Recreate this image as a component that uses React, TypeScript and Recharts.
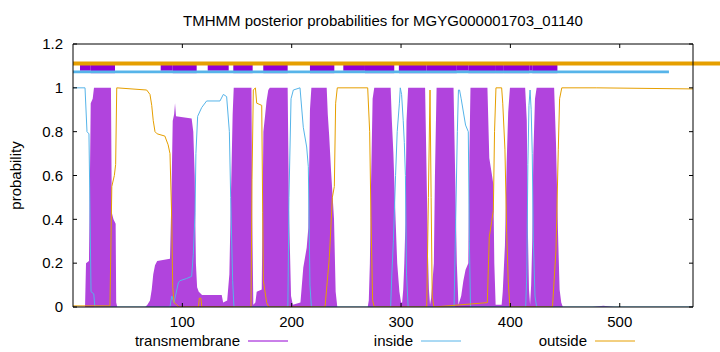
import React from 'react';
import { ComposedChart, Area, Line, XAxis, YAxis, ReferenceLine, ReferenceArea } from 'recharts';

// ---- data (residue position, posterior probability) ----
const tmPos = [0, 11, 11.9, 14.6, 15.5, 16.2, 18, 19.2, 34.7, 35.5, 37, 39, 39.5, 40.5, 66, 68, 70.4, 72, 73.4, 75, 77, 88.7, 90, 91.2, 92.5, 93.3, 94.2, 108.5, 110, 111.3, 112.4, 113.5, 115, 118, 136, 137.3, 141, 143, 144.2, 146, 147, 163.2, 163.9, 164.9, 166.8, 168, 172.6, 173.5, 174.1, 175.6, 177, 178.6, 180, 196.3, 197.5, 199.4, 201, 208, 210.6, 213.7, 215.2, 216.7, 218, 232, 233, 234.3, 236, 237.5, 238.7, 240.2, 241.7, 269.5, 270.5, 271.5, 272.5, 274, 275.5, 290.5, 291.6, 293, 295, 296.5, 298.5, 300, 301, 302, 303, 304, 305, 306.5, 322, 323.4, 324.5, 325.5, 326.5, 327.5, 328.5, 330, 331, 332.5, 348, 349.5, 351, 352.5, 355, 357, 359, 361.5, 362.5, 363.5, 379, 380.7, 382.9, 384.4, 385.3, 386.5, 392, 393, 395, 396.6, 398, 399.6, 413.5, 415, 416, 417, 418, 419, 420, 421, 422.5, 424, 440, 441.7, 443.5, 445, 446.5, 448, 475, 485, 495, 567];
const tmProb = [0, 0, 0.2, 0.21, 0.6, 0.93, 0.95, 1, 1, 0.43, 0.4, 0.38, 0.02, 0, 0, 0.01, 0.03, 0.08, 0.15, 0.19, 0.21, 0.22, 0.5, 0.85, 0.88, 0.93, 0.87, 0.86, 0.8, 0.6, 0.2, 0.09, 0.07, 0.055, 0.055, 0.02, 0.03, 0.15, 0.45, 0.88, 1, 1, 0.42, 0.01, 0.02, 0.07, 0.08, 0.5, 0.8, 0.87, 0.94, 0.99, 1, 1, 0.45, 0.05, 0.01, 0.02, 0.18, 0.27, 0.36, 0.9, 1, 1, 0.88, 0.78, 0.62, 0.5, 0.4, 0.07, 0, 0, 0.03, 0.2, 0.55, 0.95, 1, 1, 0.85, 0.7, 0.4, 0.2, 0.07, 0.02, 0.02, 0.08, 0.2, 0.38, 0.85, 1, 1, 0.6, 0.26, 0.08, 0.01, 0.04, 0.1, 0.2, 0.6, 1, 1, 0.6, 0.2, 0.01, 0.05, 0.12, 0.17, 0.2, 0.7, 1, 1, 0.68, 0.61, 0.56, 0.2, 0.01, 0.01, 0.07, 0.28, 0.66, 0.89, 1, 1, 0.85, 0.35, 0.08, 0.01, 0.1, 0.3, 0.7, 0.95, 1, 1, 0.75, 0.35, 0.08, 0.02, 0, 0, 0.006, 0, 0];

const inPos = [0, 11, 12.8, 14.6, 16.5, 19, 20, 88.7, 90.3, 92.4, 96.3, 97.8, 103.9, 108.5, 110, 111.6, 112.4, 114, 117.7, 122.2, 134.4, 137.5, 140.5, 143, 144.2, 146, 147.2, 196.5, 197.5, 199.4, 201.5, 207.6, 210.6, 213.7, 215.2, 216.7, 218, 290.5, 291.6, 293, 295, 296.5, 298.5, 299.3, 300.5, 302, 303, 304, 305, 306.5, 348.5, 350, 351.5, 352.5, 353.5, 355, 359, 361.5, 362.5, 363.5, 414, 415, 416, 417, 418, 419, 420, 421, 422.5, 424, 567];
const inProb = [1, 1, 0.8, 0.79, 0.07, 0.06, 0, 0, 0.05, 0.02, 0.11, 0.12, 0.13, 0.14, 0.24, 0.43, 0.7, 0.87, 0.91, 0.94, 0.94, 0.97, 0.96, 0.8, 0.5, 0.12, 0, 0, 0.5, 0.95, 0.99, 1, 0.82, 0.73, 0.64, 0.1, 0, 0, 0.15, 0.3, 0.6, 0.8, 0.93, 1, 0.97, 0.85, 0.75, 0.6, 0.15, 0, 0, 0.4, 0.8, 0.99, 0.99, 0.95, 0.83, 0.8, 0.3, 0, 0, 0.15, 0.65, 0.92, 0.99, 0.9, 0.7, 0.3, 0.05, 0, 0];

const outPos = [0, 33.8, 35.5, 37.8, 39, 40, 67.4, 70.4, 72, 73.4, 75, 77, 84, 87, 88.7, 90.3, 91.2, 92.4, 94.8, 97, 114.8, 115.5, 117, 117.8, 162.8, 163.7, 164.9, 166.8, 168, 172.6, 173.5, 174.1, 177.1, 179, 230.5, 234.5, 237.2, 239, 240.2, 241.7, 269.5, 271.3, 272.5, 274, 275.5, 323.5, 325, 326.5, 327.5, 328.5, 330, 378.9, 380.7, 382.9, 384.4, 385.5, 386.8, 392, 393, 395, 396.6, 398.1, 399.6, 438.5, 441.7, 443.8, 445, 447, 479, 567];
const outProb = [0.005, 0.005, 0.55, 0.6, 0.65, 1, 0.99, 0.97, 0.92, 0.85, 0.8, 0.79, 0.78, 0.74, 0.7, 0.4, 0.09, 0.02, 0.01, 0, 0, 0.04, 0.04, 0, 0, 0.58, 0.99, 1, 0.93, 0.92, 0.43, 0.12, 0.02, 0, 0, 0.23, 0.5, 0.55, 0.93, 1, 1, 0.8, 0.41, 0.03, 0, 0, 0.5, 0.99, 0.5, 0.05, 0, 0.02, 0.32, 0.39, 0.44, 0.8, 1, 1, 0.93, 0.72, 0.34, 0.11, 0, 0, 0.26, 0.72, 0.95, 1, 1, 0.995];

// header bar: predicted topology
const outsideBar = [0, 592];
const insideBar = [0, 545];
const tmBoxStart = [6.4, 16.2, 80.2, 91.2, 123.2, 146.6, 174, 216.7, 247.2, 267, 298, 323.4, 326.5, 351, 361.5, 386, 394, 417.3, 420];
const tmBoxEnd = [16.2, 38.4, 91.2, 113.1, 142.4, 164.3, 196.3, 239, 267, 293.8, 323.4, 326.5, 351, 361.5, 386, 394, 417.3, 420, 443];
const tmBoxKind = ['thin', 'full', 'thin', 'full', 'thin', 'full', 'full', 'full', 'thin', 'full', 'full', 'lower', 'full', 'upper', 'full', 'lower', 'full', 'upper', 'full'];

const xTicks = [100, 200, 300, 400, 500];
const yTicks = [0, 0.2, 0.4, 0.6, 0.8, 1, 1.2];
const yTickLabels = ['0', '0.2', '0.4', '0.6', '0.8', '1', '1.2'];
const seriesNames = ['transmembrane', 'inside', 'outside'];

const title = 'TMHMM posterior probabilities for MGYG000001703_01140';

// ---- styles ----
const PURPLE = '#9400D3';
const PURPLE_FILL = '#b144dd';
const BLUE = '#56B4E9';
const ORANGE = '#E69F00';
const FONT = '"Liberation Sans", Arial, sans-serif';
const FS = 15;
const boxY: Record<string, [number, number]> = {
  full: [1.067, 1.113],
  thin: [1.078, 1.105],
  lower: [1.067, 1.105],
  upper: [1.078, 1.113],
};

const zip = (xs: number[], ys: number[]) => xs.map((x, i) => ({ x, p: ys[i] }));
const tmData = zip(tmPos, tmProb);
const inData = zip(inPos, inProb);
const outData = zip(outPos, outProb);

const BottomTick = (props: any) => {
  const { x, y, payload } = props;
  return (
    <g>
      <line x1={x} x2={x} y1={y} y2={y - 4} stroke="#000" />
      <text x={x} y={y + 20} textAnchor="middle" fontFamily={FONT} fontSize={FS} fill="#000">
        {payload.value}
      </text>
    </g>
  );
};
const TopTick = (props: any) => {
  const { x, y } = props;
  return <line x1={x} x2={x} y1={y} y2={y + 4} stroke="#000" />;
};
const LeftTick = (props: any) => {
  const { x, y, payload, index } = props;
  return (
    <g>
      <line x1={x} x2={x + 4} y1={y} y2={y} stroke="#000" />
      <text x={x - 10} y={y + 5.3} textAnchor="end" fontFamily={FONT} fontSize={FS} fill="#000">
        {yTickLabels[yTicks.indexOf(payload.value)] ?? yTickLabels[index]}
      </text>
    </g>
  );
};
const RightTick = (props: any) => {
  const { x, y } = props;
  return <line x1={x} x2={x - 4} y1={y} y2={y} stroke="#000" />;
};

const legendColors = [PURPLE, BLUE, ORANGE];
const legendTextEnd = [240, 413, 587];

export default function App() {
  return (
    <div style={{ position: 'relative', width: 720, height: 352, background: '#fff' }}>
      <style>{`body{margin:0;background:#fff}`}</style>
      <ComposedChart width={720} height={352} margin={{ top: 43, right: 26, bottom: 15, left: 13 }}>
        <XAxis
          xAxisId={0}
          type="number"
          dataKey="x"
          domain={[0, 567]}
          allowDataOverflow
          ticks={xTicks}
          tick={<BottomTick />}
          tickLine={false}
          tickSize={0}
          tickMargin={0}
          height={30}
          axisLine={{ stroke: '#000' }}
          interval={0}
        />
        <XAxis
          xAxisId="top"
          orientation="top"
          type="number"
          dataKey="x"
          domain={[0, 567]}
          allowDataOverflow
          ticks={xTicks}
          tick={<TopTick />}
          tickLine={false}
          tickSize={0}
          tickMargin={0}
          height={1}
          axisLine={{ stroke: '#000' }}
          interval={0}
        />
        <YAxis
          yAxisId={0}
          type="number"
          domain={[0, 1.2]}
          allowDataOverflow
          ticks={yTicks}
          tick={<LeftTick />}
          tickLine={false}
          tickSize={0}
          tickMargin={0}
          width={60}
          axisLine={{ stroke: '#000' }}
          interval={0}
        />
        <YAxis
          yAxisId="right"
          orientation="right"
          type="number"
          domain={[0, 1.2]}
          allowDataOverflow
          ticks={yTicks}
          tick={<RightTick />}
          tickLine={false}
          tickSize={0}
          tickMargin={0}
          width={1}
          axisLine={{ stroke: '#000' }}
          interval={0}
        />
        <Area
          data={tmData}
          dataKey="p"
          type="linear"
          stroke="none"
          fill={PURPLE_FILL}
          fillOpacity={1}
          isAnimationActive={false}
          name={seriesNames[0]}
        />
        <Line data={inData} dataKey="p" type="linear" stroke={BLUE} strokeWidth={1} dot={false} isAnimationActive={false} name={seriesNames[1]} />
        <Line data={outData} dataKey="p" type="linear" stroke={ORANGE} strokeWidth={1} dot={false} isAnimationActive={false} name={seriesNames[2]} />
        <ReferenceLine
          segment={[{ x: outsideBar[0], y: 1.111 }, { x: outsideBar[1], y: 1.111 }]}
          stroke={ORANGE}
          strokeWidth={4}
          ifOverflow="visible"
        />
        <ReferenceLine
          segment={[{ x: insideBar[0], y: 1.073 }, { x: insideBar[1], y: 1.073 }]}
          stroke={BLUE}
          strokeWidth={2.7}
          ifOverflow="visible"
        />
        {tmBoxStart.map((s, i) => (
          <ReferenceArea
            key={i}
            x1={s}
            x2={tmBoxEnd[i]}
            y1={boxY[tmBoxKind[i]][0]}
            y2={boxY[tmBoxKind[i]][1]}
            fill={PURPLE}
            fillOpacity={1}
            stroke="none"
            ifOverflow="visible"
          />
        ))}
      </ComposedChart>
      <svg width={720} height={352} style={{ position: 'absolute', left: 0, top: 0, pointerEvents: 'none' }}>
        <text x={383} y={26} textAnchor="middle" fontFamily={FONT} fontSize={FS} fill="#000">
          {title}
        </text>
        <text
          x={21}
          y={175.5}
          textAnchor="middle"
          fontFamily={FONT}
          fontSize={FS}
          fill="#000"
          transform="rotate(-90 21 175.5)"
        >
          probability
        </text>
        {seriesNames.map((n, i) => (
          <g key={n}>
            <text x={legendTextEnd[i]} y={346} textAnchor="end" fontFamily={FONT} fontSize={FS} fill="#000">
              {n}
            </text>
            <line x1={legendTextEnd[i] + 8} x2={legendTextEnd[i] + 48} y1={341} y2={341} stroke={legendColors[i]} strokeWidth={1} />
          </g>
        ))}
      </svg>
    </div>
  );
}
